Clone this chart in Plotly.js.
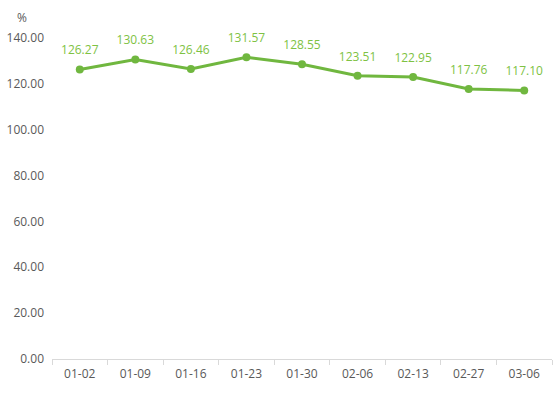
<!DOCTYPE html>
<html><head><meta charset="utf-8">
<script src="https://cdn.plot.ly/plotly-3.0.1.min.js"></script>
<style>html,body{margin:0;padding:0;background:#fff}#chart{width:555px;height:393px}</style>
</head><body><div id="chart"></div>
<script>
var categories = ["01-02","01-09","01-16","01-23","01-30","02-06","02-13","02-27","03-06"];
var values = [126.27,130.63,126.46,131.57,128.55,123.51,122.95,117.76,117.10];
var tickVals = [0,20,40,60,80,100,120,140];
var tickText = ["0.00","20.00","40.00","60.00","80.00","100.00","120.00","140.00"];

var fontFam = "'Open Sans', 'Noto Sans', sans-serif";
var lineTrace = {
  x: categories, y: values, type: 'scatter', mode: 'lines+markers',
  line: {color: '#70b73f', width: 3},
  marker: {color: '#70b73f', size: 8},
  cliponaxis: false, hoverinfo: 'none'
};
var labelTrace = {
  x: categories, y: values, type: 'scatter', mode: 'markers+text',
  marker: {color: 'rgba(0,0,0,0)', size: 18},
  text: values.map(function(v){return v.toFixed(2);}),
  textposition: 'top center',
  textfont: {color: '#7ec243', size: 12, family: fontFam},
  cliponaxis: false, hoverinfo: 'none'
};
var layout = {
  width: 555, height: 393,
  margin: {l: 52, r: 3, t: 38, b: 34},
  paper_bgcolor: '#fff', plot_bgcolor: '#fff',
  showlegend: false,
  font: {family: fontFam, size: 12, color: '#595959'},
  xaxis: {type: 'category', range: [-0.5, categories.length - 0.5], tickson: 'boundaries',
    ticks: 'outside', ticklen: 5,
    tickcolor: '#d9d9d9', showline: true, linecolor: '#d9d9d9', linewidth: 1,
    showgrid: false, zeroline: false, ticklabelstandoff: 4, automargin: false,
    tickfont: {size: 12, color: '#595959'}, fixedrange: true},
  yaxis: {range: [0, 140], tickvals: tickVals, ticktext: tickText, showgrid: false,
    zeroline: false, showline: false, ticks: '', ticklabelstandoff: 7, automargin: false,
    tickfont: {size: 12, color: '#595959'}, fixedrange: true},
  annotations: [{text: '%', xref: 'paper', yref: 'paper', x: -0.06, y: 1.03,
    xanchor: 'center', yanchor: 'bottom', showarrow: false, font: {size: 12, color: '#595959'}}]
};
Plotly.newPlot('chart', [lineTrace, labelTrace], layout, {displayModeBar: false, staticPlot: true});
</script></body></html>
